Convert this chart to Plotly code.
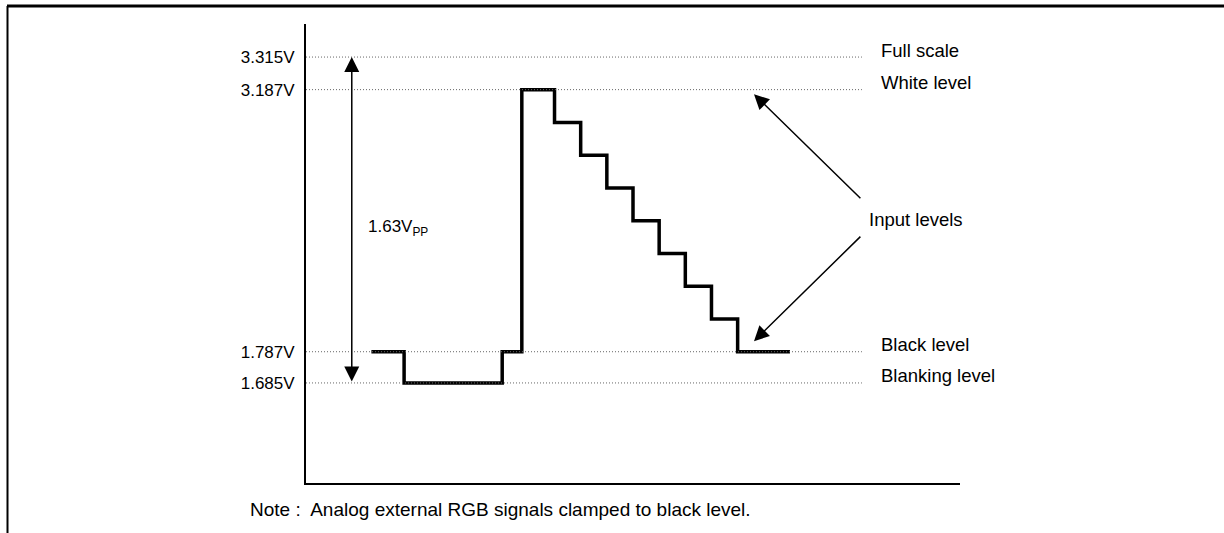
import numpy as np
import plotly.graph_objects as go

# ---- data ----
level_names = ["Blanking level", "Black level", "White level", "Full scale"]
level_volts = [1.685, 1.787, 3.187, 3.315]
level_ticktext = ["1.685V", "1.787V", "3.187V", "3.315V"]

# staircase test signal: edge times (arbitrary units) and voltage after each edge
signal_t = [10, 15, 30, 33, 38, 42, 46, 50, 54, 58, 62, 66, 74]
signal_v = [1.787, 1.685, 1.787, 3.187, 3.012, 2.837, 2.662, 2.487,
            2.312, 2.137, 1.962, 1.787, 1.787]

vpp_text = "1.63V<sub>PP</sub>"
note_text = "Note :  Analog external RGB signals clamped to black level."
input_text = "Input levels"

# ---- diagram scale (not to scale in volts: piecewise mapping) ----
level_disp = [21.8, 28.6, 85.7, 92.8]


def to_disp(v):
    return np.interp(v, level_volts, level_disp)


FONT = "Liberation Sans, Arial, sans-serif"
fig = go.Figure()

# dotted reference levels
for v in level_volts:
    fig.add_shape(type="line", xref="x", yref="y", x0=0, x1=85,
                  y0=to_disp(v), y1=to_disp(v),
                  line=dict(color="#666666", width=1, dash="1px,2px"))

# staircase signal
fig.add_trace(go.Scatter(x=signal_t, y=to_disp(np.array(signal_v)),
                         mode="lines", line=dict(color="black", width=3.5, shape="hv"),
                         hoverinfo="skip", showlegend=False))

# level names at right
for name, v in zip(level_names, level_volts):
    fig.add_annotation(x=87.6, y=to_disp(v), xref="x", yref="y", text=name,
                       showarrow=False, xanchor="left", yanchor="middle", yshift=7,
                       font=dict(family=FONT, size=18.5, color="black"))

# double arrow spanning blanking -> full scale
fig.add_annotation(x=7, y=to_disp(level_volts[3]), ax=7, ay=to_disp(level_volts[0]),
                   xref="x", yref="y", axref="x", ayref="y", text="",
                   showarrow=True, arrowside="end+start",
                   arrowhead=2, startarrowhead=2, arrowsize=2, startarrowsize=2,
                   arrowwidth=1.5, arrowcolor="black")
fig.add_annotation(x=9.2, y=55.6, xref="x", yref="y", text=vpp_text, showarrow=False,
                   xanchor="left", yanchor="middle",
                   font=dict(family=FONT, size=17, color="black"))

# input levels arrows
fig.add_annotation(x=68.5, y=84.7, ax=85, ay=61.7, xref="x", yref="y", axref="x", ayref="y",
                   text="", showarrow=True, arrowhead=2, arrowsize=2, arrowwidth=1.5,
                   arrowcolor="black")
fig.add_annotation(x=68.5, y=30.9, ax=85, ay=54.0, xref="x", yref="y", axref="x", ayref="y",
                   text="", showarrow=True, arrowhead=2, arrowsize=2, arrowwidth=1.5,
                   arrowcolor="black")
fig.add_annotation(x=85.8, y=57.5, xref="x", yref="y", text=input_text, showarrow=False,
                   xanchor="left", yanchor="middle",
                   font=dict(family=FONT, size=18.5, color="black"))

# note
fig.add_annotation(x=(248 - 306) / 654, y=(483 - 509) / 459, xref="paper", yref="paper",
                   text=note_text, showarrow=False, xanchor="left", yanchor="middle",
                   font=dict(family=FONT, size=19, color="black"))

# frame (top and left edges)
fig.add_shape(type="line", xref="paper", yref="paper",
              x0=(7 - 306) / 654, x1=(1224 - 306) / 654,
              y0=(483 - 6) / 459, y1=(483 - 6) / 459,
              line=dict(color="black", width=3))
fig.add_shape(type="line", xref="paper", yref="paper",
              x0=(7.5 - 306) / 654, x1=(7.5 - 306) / 654,
              y0=(483 - 6) / 459, y1=(483 - 540) / 459,
              line=dict(color="black", width=2))

fig.update_xaxes(range=[0, 100], showline=True, linecolor="black", linewidth=2,
                 showgrid=False, zeroline=False, showticklabels=False, ticks="")
fig.update_yaxes(range=[0, 100], showline=True, linecolor="black", linewidth=2,
                 showgrid=False, zeroline=False, ticks="",
                 tickvals=list(to_disp(np.array(level_volts))), ticktext=level_ticktext,
                 tickfont=dict(family=FONT, size=17, color="black"), ticklabelstandoff=6)

fig.update_layout(width=1224, height=533, margin=dict(l=306, r=264, t=24, b=50),
                  plot_bgcolor="white", paper_bgcolor="white", showlegend=False)

fig.write_html("out.html", config={"displayModeBar": False},
               post_script="document.body.style.margin='0';document.body.style.overflow='hidden';")
